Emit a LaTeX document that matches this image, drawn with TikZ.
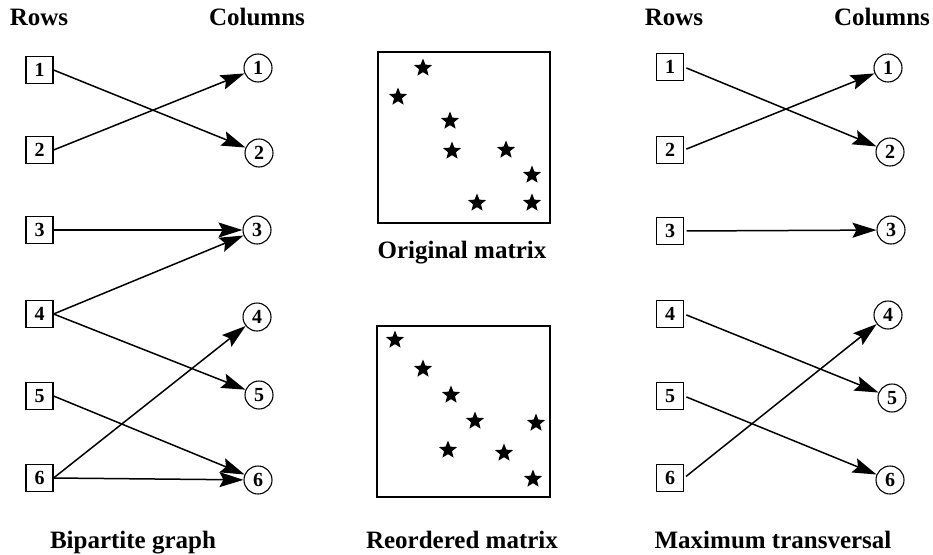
\documentclass[tikz,border=0pt]{standalone}
\usepackage{fontspec}
\setmainfont{Liberation Serif}
\usetikzlibrary{arrows.meta,shapes.geometric}
\begin{document}
\begin{tikzpicture}[x=1pt,y=-1pt,
  rowbox/.style={draw,line width=1.1pt,minimum size=27pt,inner sep=0pt,font=\fontsize{20}{20}\selectfont\bfseries},
  colnode/.style={draw,circle,line width=1.1pt,minimum size=28pt,inner sep=0pt,font=\fontsize{20}{20}\selectfont\bfseries},
  arr/.style={-{Stealth[length=24pt,width=15pt,inset=4pt]},line width=1.5pt},
  rarr/.style={arr,shorten <=2.5pt},
  hdr/.style={anchor=base,inner sep=0pt,font=\fontsize{25}{25}\selectfont\bfseries},
  mstar/.style={star,star points=5,star point ratio=2.3,minimum size=19pt,inner sep=0pt,fill=black,draw=none},
  mbox/.style={draw,line width=1.1pt}]
\useasboundingbox (0,0) rectangle (933,554);
% headers
\node[hdr] (hr1) at (39,25) {Rows};
\node[hdr] (hc1) at (257,25) {Columns};
\node[hdr] (hr2) at (674,25) {Rows};
\node[hdr] (hc2) at (882,25) {Columns};
% left graph
\node[rowbox] (l1) at (39.5,70) {1};
\node[rowbox] (l2) at (39.5,150) {2};
\node[rowbox] (l3) at (39.5,230) {3};
\node[rowbox] (l4) at (39.5,314) {4};
\node[rowbox] (l5) at (39.5,396) {5};
\node[rowbox] (l6) at (39.5,478) {6};
\node[colnode] (lc1) at (258,68) {1};
\node[colnode] (lc2) at (259,153) {2};
\node[colnode] (lc3) at (257,230) {3};
\node[colnode] (lc4) at (257,317) {4};
\node[colnode] (lc5) at (259,395) {5};
\node[colnode] (lc6) at (258,480) {6};
\draw[arr] (l1.east) -- (lc2);
\draw[arr] (l2.east) -- (lc1);
\draw[arr] (l3.east) -- (lc3);
\draw[arr] (l4.east) -- (lc3);
\draw[arr] (l4.east) -- (lc5);
\draw[arr] (l5.east) -- (lc6);
\draw[arr] (l6.east) -- (lc4);
\draw[arr] (l6.east) -- (lc6);
\node[hdr] (lbl1) at (133,548) {Bipartite graph};
% right graph
\node[rowbox] (r1) at (670,67) {1};
\node[rowbox] (r2) at (670,150) {2};
\node[rowbox] (r3) at (670,231) {3};
\node[rowbox] (r4) at (670,314) {4};
\node[rowbox] (r5) at (670,396) {5};
\node[rowbox] (r6) at (670,478) {6};
\node[colnode] (rc1) at (888,68) {1};
\node[colnode] (rc2) at (890,152) {2};
\node[colnode] (rc3) at (891,230) {3};
\node[colnode] (rc4) at (888,315) {4};
\node[colnode] (rc5) at (892,398) {5};
\node[colnode] (rc6) at (890,480) {6};
\draw[rarr] (r1.east) -- (rc2);
\draw[rarr] (r2.east) -- (rc1);
\draw[rarr] (r3.east) -- (rc3);
\draw[rarr] (r4.east) -- (rc5);
\draw[rarr] (r5.east) -- (rc6);
\draw[rarr] (r6.east) -- (rc4);
\node[hdr] (lbl3) at (773,548) {Maximum transversal};
% original matrix
\draw[mbox] (378,52) rectangle (550,223);
\node[mstar] (o1) at (423,68) {};
\node[mstar] (o2) at (398,97) {};
\node[mstar] (o3) at (450,121) {};
\node[mstar] (o4) at (452,151) {};
\node[mstar] (o5) at (506,150) {};
\node[mstar] (o6) at (532,175) {};
\node[mstar] (o7) at (477,203) {};
\node[mstar] (o8) at (532,203) {};
\node[hdr] (lbl2) at (462,258) {Original matrix};
% reordered matrix
\draw[mbox] (377,326) rectangle (550,497);
\node[mstar] (p1) at (395,340) {};
\node[mstar] (p2) at (423,369) {};
\node[mstar] (p3) at (451,395) {};
\node[mstar] (p4) at (475,421) {};
\node[mstar] (p5) at (536,423) {};
\node[mstar] (p6) at (448,450) {};
\node[mstar] (p7) at (504,453) {};
\node[mstar] (p8) at (533,479) {};
\node[hdr] (lbl4) at (462,548) {Reordered matrix};
\end{tikzpicture}
\end{document}
